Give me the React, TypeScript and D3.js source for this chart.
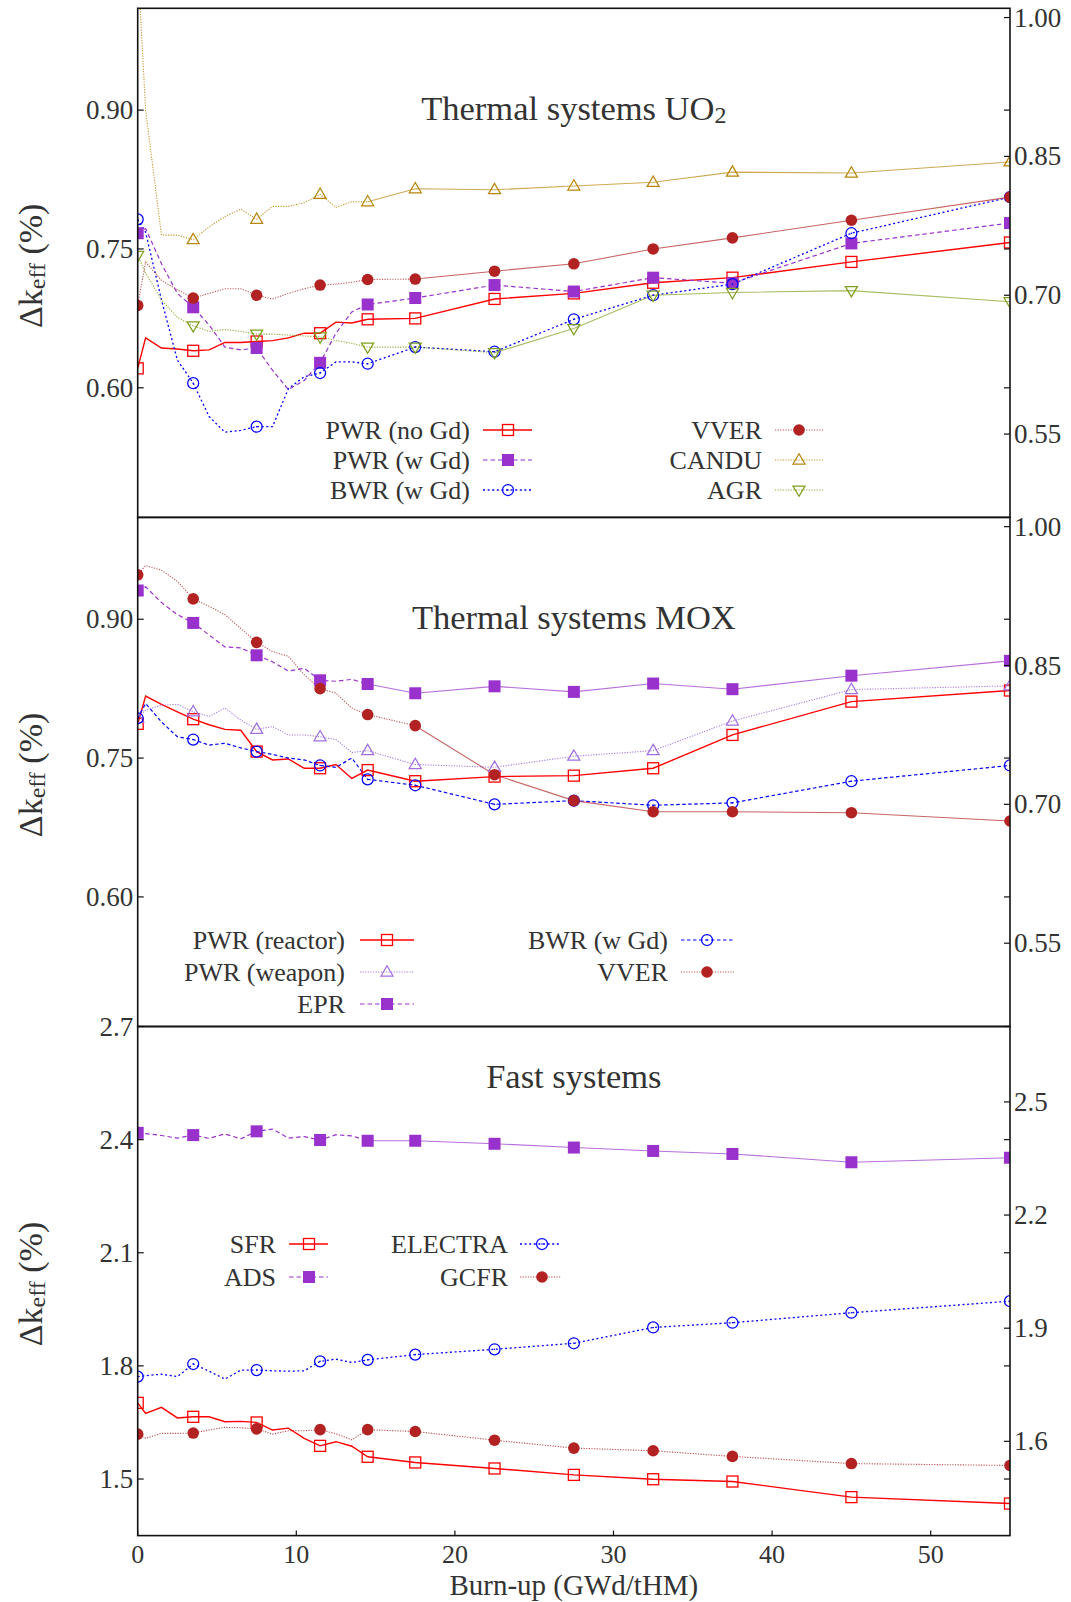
import React from 'react';
import * as d3 from 'd3';

// ---------- data ----------
const BURNUP = [0, 0.5, 1.5, 2.5, 3.5, 4.5, 5.5, 6.5, 7.5, 8.5, 9.5, 10.5, 11.5, 12.5, 13.5, 14.5, 17.5, 22.5, 27.5, 32.5, 37.5, 45, 55];
const MARKER_BURNUP = [0, 3.5, 7.5, 11.5, 14.5, 17.5, 22.5, 27.5, 32.5, 37.5, 45, 55];
const X_TICKS = [0, 10, 20, 30, 40, 50];

// Thermal systems UO2
const UO2_PWR_NOGD = [0.621, 0.654, 0.643, 0.642, 0.640, 0.641, 0.649, 0.649, 0.650, 0.651, 0.654, 0.659, 0.659, 0.671, 0.670, 0.674, 0.675, 0.696, 0.702, 0.7135, 0.719, 0.736, 0.757];
const UO2_PWR_WGD = [0.767, 0.772, 0.734, 0.702, 0.687, 0.668, 0.644, 0.641, 0.643, 0.619, 0.598, 0.608, 0.627, 0.659, 0.682, 0.690, 0.697, 0.711, 0.704, 0.719, 0.713, 0.756, 0.778];
const UO2_BWR_WGD = [0.782, 0.768, 0.695, 0.630, 0.605, 0.569, 0.552, 0.554, 0.558, 0.558, 0.599, 0.612, 0.616, 0.628, 0.628, 0.626, 0.644, 0.639, 0.674, 0.700, 0.712, 0.767, 0.806];
const UO2_VVER = [0.689, 0.736, 0.716, 0.706, 0.697, 0.702, 0.707, 0.707, 0.700, 0.696, 0.702, 0.707, 0.711, 0.712, 0.714, 0.717, 0.7175, 0.726, 0.734, 0.750, 0.762, 0.781, 0.806];
const UO2_CANDU = [1.06, 0.900, 0.765, 0.765, 0.760, 0.774, 0.785, 0.793, 0.782, 0.796, 0.796, 0.800, 0.809, 0.795, 0.801, 0.801, 0.815, 0.814, 0.818, 0.822, 0.833, 0.832, 0.844];
const UO2_AGR = [0.743, 0.724, 0.695, 0.676, 0.667, 0.661, 0.663, 0.661, 0.658, 0.658, 0.657, 0.656, 0.655, 0.651, 0.648, 0.644, 0.644, 0.638, 0.664, 0.700, 0.703, 0.705, 0.693];

// Thermal systems MOX
const MOX_PWR_REACTOR = [0.787, 0.817, 0.808, 0.800, 0.792, 0.786, 0.781, 0.780, 0.757, 0.748, 0.749, 0.739, 0.739, 0.743, 0.728, 0.737, 0.725, 0.730, 0.731, 0.739, 0.775, 0.811, 0.823];
const MOX_PWR_WEAPON = [0.793, 0.802, 0.807, 0.808, 0.800, 0.795, 0.804, 0.791, 0.781, 0.784, 0.775, 0.775, 0.773, 0.770, 0.756, 0.758, 0.743, 0.740, 0.752, 0.758, 0.790, 0.824, 0.828];
const MOX_EPR = [0.931, 0.935, 0.918, 0.905, 0.896, 0.883, 0.870, 0.869, 0.861, 0.854, 0.844, 0.847, 0.834, 0.833, 0.835, 0.830, 0.820, 0.8275, 0.8215, 0.8305, 0.8244, 0.839, 0.855];
const MOX_BWR_WGD = [0.793, 0.809, 0.789, 0.773, 0.770, 0.764, 0.766, 0.761, 0.757, 0.754, 0.750, 0.748, 0.742, 0.740, 0.750, 0.727, 0.7206, 0.700, 0.704, 0.699, 0.7016, 0.725, 0.742];
const MOX_VVER = [0.948, 0.958, 0.953, 0.941, 0.922, 0.914, 0.905, 0.890, 0.875, 0.865, 0.860, 0.840, 0.825, 0.820, 0.804, 0.797, 0.785, 0.732, 0.704, 0.692, 0.692, 0.691, 0.682];

// Fast systems
const FAST_SFR = [1.702, 1.674, 1.690, 1.662, 1.665, 1.665, 1.652, 1.653, 1.650, 1.630, 1.635, 1.608, 1.588, 1.599, 1.587, 1.559, 1.544, 1.528, 1.511, 1.4995, 1.4934, 1.452, 1.435];
const FAST_ADS = [2.418, 2.416, 2.411, 2.404, 2.412, 2.4035, 2.415, 2.402, 2.422, 2.428, 2.404, 2.408, 2.399, 2.413, 2.410, 2.397, 2.397, 2.389, 2.379, 2.370, 2.362, 2.340, 2.352];
const FAST_ELECTRA = [1.7715, 1.774, 1.778, 1.7715, 1.805, 1.786, 1.765, 1.789, 1.789, 1.787, 1.786, 1.787, 1.812, 1.818, 1.809, 1.816, 1.830, 1.844, 1.860, 1.902, 1.9145, 1.941, 1.9716];
const FAST_GCFR = [1.619, 1.608, 1.621, 1.621, 1.622, 1.630, 1.637, 1.636, 1.633, 1.619, 1.628, 1.628, 1.631, 1.620, 1.604, 1.631, 1.626, 1.603, 1.582, 1.575, 1.560, 1.541, 1.536];

const THERMAL_LEFT_TICKS = [0.6, 0.75, 0.9];
const THERMAL_RIGHT_TICKS = [0.55, 0.7, 0.85, 1.0];
const FAST_LEFT_TICKS = [1.5, 1.8, 2.1, 2.4, 2.7];
const FAST_RIGHT_TICKS = [1.6, 1.9, 2.2, 2.5];

// ---------- styles ----------
const RED = '#ff0000';
const PURPLE = '#9932cc';
const BLUE = '#0000ff';
const FIREBRICK = '#b22222';
const GOLD = '#b8860b';
const OLIVE = '#7f9f1f';
const LAVENDER = '#a070e0';
const TEXT = '#333333';
const FONT = '"Liberation Serif", "DejaVu Serif", serif';

type MarkerType = 'openSquare' | 'filledSquare' | 'openCircle' | 'filledCircle' | 'triUp' | 'triDown';
interface Series {
  label: string;
  values: number[];
  color: string;
  dash: string;
  width: number;
  opacity: number;
  marker: MarkerType;
  tailFrom?: number;
}

const solidRed = (label: string, values: number[]): Series => ({ label, values, color: RED, dash: '', width: 1.4, opacity: 1, marker: 'openSquare' });

const W = 1071, H = 1602;
const LEFT = 137.7, RIGHT = 1010;
const PANEL_H = 509.1;

interface LegendItem { s: Series; col: number; row: number; }
interface Panel {
  top: number;
  domain: [number, number];
  leftTicks: number[];
  rightTicks: number[];
  fmt: (n: number) => string;
  title: string;
  titleSub?: string;
  titleY: number;
  series: Series[];
  legendRows: number[];
  legendCols: { textEnd: number; x1: number; x2: number; mx: number }[];
  legend: LegendItem[];
}

const uo2Series: Series[] = [
  solidRed('PWR (no Gd)', UO2_PWR_NOGD),
  { label: 'PWR (w Gd)', values: UO2_PWR_WGD, color: PURPLE, dash: '4.5,3', width: 1.2, opacity: 1, marker: 'filledSquare' },
  { label: 'BWR (w Gd)', values: UO2_BWR_WGD, color: BLUE, dash: '2,2.6', width: 1.3, opacity: 1, marker: 'openCircle' },
  { label: 'VVER', values: UO2_VVER, color: FIREBRICK, dash: '1.2,1.4', width: 1.1, opacity: 0.75, marker: 'filledCircle', tailFrom: 17.5 },
  { label: 'CANDU', values: UO2_CANDU, color: GOLD, dash: '1.2,1.4', width: 1.1, opacity: 0.85, marker: 'triUp', tailFrom: 14.5 },
  { label: 'AGR', values: UO2_AGR, color: OLIVE, dash: '1.2,1.4', width: 1.1, opacity: 0.85, marker: 'triDown', tailFrom: 22.5 },
];
const moxSeries: Series[] = [
  solidRed('PWR (reactor)', MOX_PWR_REACTOR),
  { label: 'PWR (weapon)', values: MOX_PWR_WEAPON, color: LAVENDER, dash: '1.2,1.4', width: 1.1, opacity: 0.9, marker: 'triUp' },
  { label: 'EPR', values: MOX_EPR, color: PURPLE, dash: '4.5,3', width: 1.2, opacity: 1, marker: 'filledSquare', tailFrom: 14.5 },
  { label: 'BWR (w Gd)', values: MOX_BWR_WGD, color: BLUE, dash: '3.5,2.5', width: 1.2, opacity: 1, marker: 'openCircle' },
  { label: 'VVER', values: MOX_VVER, color: FIREBRICK, dash: '1.2,1.4', width: 1.1, opacity: 0.75, marker: 'filledCircle', tailFrom: 17.5 },
];
const fastSeries: Series[] = [
  solidRed('SFR', FAST_SFR),
  { label: 'ADS', values: FAST_ADS, color: PURPLE, dash: '4.5,3', width: 1.2, opacity: 1, marker: 'filledSquare', tailFrom: 14.5 },
  { label: 'ELECTRA', values: FAST_ELECTRA, color: BLUE, dash: '2,2.6', width: 1.3, opacity: 1, marker: 'openCircle' },
  { label: 'GCFR', values: FAST_GCFR, color: FIREBRICK, dash: '1.2,1.4', width: 1.1, opacity: 0.8, marker: 'filledCircle' },
];

const f2 = d3.format('.2f');
const f1 = d3.format('.1f');

const PANELS: Panel[] = [
  {
    top: 8.3, domain: [0.46, 1.01], leftTicks: THERMAL_LEFT_TICKS, rightTicks: THERMAL_RIGHT_TICKS, fmt: f2,
    title: 'Thermal systems UO', titleSub: '2', titleY: 108, series: uo2Series,
    legendRows: [430, 460, 490],
    legendCols: [{ textEnd: 470, x1: 483, x2: 532, mx: 508 }, { textEnd: 762, x1: 775, x2: 824, mx: 799 }],
    legend: [
      { s: uo2Series[0], col: 0, row: 0 }, { s: uo2Series[1], col: 0, row: 1 }, { s: uo2Series[2], col: 0, row: 2 },
      { s: uo2Series[3], col: 1, row: 0 }, { s: uo2Series[4], col: 1, row: 1 }, { s: uo2Series[5], col: 1, row: 2 },
    ],
  },
  {
    top: 517.4, domain: [0.46, 1.01], leftTicks: THERMAL_LEFT_TICKS, rightTicks: THERMAL_RIGHT_TICKS, fmt: f2,
    title: 'Thermal systems MOX', titleY: 617, series: moxSeries,
    legendRows: [940, 972, 1004],
    legendCols: [{ textEnd: 345, x1: 360, x2: 414, mx: 387 }, { textEnd: 668, x1: 681, x2: 734, mx: 707 }],
    legend: [
      { s: moxSeries[0], col: 0, row: 0 }, { s: moxSeries[1], col: 0, row: 1 }, { s: moxSeries[2], col: 0, row: 2 },
      { s: moxSeries[3], col: 1, row: 0 }, { s: moxSeries[4], col: 1, row: 1 },
    ],
  },
  {
    top: 1026.5, domain: [1.35, 2.7], leftTicks: FAST_LEFT_TICKS, rightTicks: FAST_RIGHT_TICKS, fmt: f1,
    title: 'Fast systems', titleY: 1076, series: fastSeries,
    legendRows: [1244, 1277],
    legendCols: [{ textEnd: 276, x1: 289, x2: 328, mx: 309 }, { textEnd: 508, x1: 520, x2: 561, mx: 542 }],
    legend: [
      { s: fastSeries[0], col: 0, row: 0 }, { s: fastSeries[1], col: 0, row: 1 },
      { s: fastSeries[2], col: 1, row: 0 }, { s: fastSeries[3], col: 1, row: 1 },
    ],
  },
];

const x = d3.scaleLinear().domain([0, 55]).range([LEFT, RIGHT]);

function Marker({ type, cx, cy, color }: { type: MarkerType; cx: number; cy: number; color: string }) {
  switch (type) {
    case 'openSquare':
      return <rect x={cx - 5.5} y={cy - 5.5} width={11} height={11} fill="none" stroke={color} strokeWidth={1.3} />;
    case 'filledSquare':
      return <rect x={cx - 6} y={cy - 6} width={12} height={12} fill={color} />;
    case 'openCircle':
      return (
        <g>
          <circle cx={cx} cy={cy} r={5.5} fill="none" stroke={color} strokeWidth={1.25} />
          <circle cx={cx} cy={cy} r={0.8} fill={color} />
        </g>
      );
    case 'filledCircle':
      return <circle cx={cx} cy={cy} r={5.8} fill={color} />;
    case 'triUp':
      return <polygon points={`${cx},${cy - 6.3} ${cx - 6},${cy + 4} ${cx + 6},${cy + 4}`} fill="none" stroke={color} strokeWidth={1.25} />;
    case 'triDown':
      return <polygon points={`${cx},${cy + 6.3} ${cx - 6},${cy - 4} ${cx + 6},${cy - 4}`} fill="none" stroke={color} strokeWidth={1.25} />;
  }
  return null;
}

function PanelView({ p, idx }: { p: Panel; idx: number }) {
  const y = d3.scaleLinear().domain(p.domain).range([p.top + PANEL_H, p.top]);
  const line = d3.line<[number, number]>().x(d => x(d[0])).y(d => y(d[1]));
  const clipId = `clip${idx}`;
  const cy = p.top + PANEL_H / 2 + 3;
  const allRight = [...p.rightTicks, ...p.leftTicks];
  return (
    <g>
      <defs>
        <clipPath id={clipId}>
          <rect x={LEFT} y={p.top} width={RIGHT - LEFT} height={PANEL_H} />
        </clipPath>
      </defs>
      <g clipPath={`url(#${clipId})`}>
        {p.series.map((s, i) => {
          const pts: [number, number][] = BURNUP.map((b, j) => [b, s.values[j]]);
          const tf = s.tailFrom ?? Infinity;
          const head = pts.filter(d => d[0] <= tf);
          const tail = pts.filter(d => d[0] >= tf);
          return (
            <g key={i}>
              <path d={line(head) || ''} fill="none" stroke={s.color} strokeWidth={s.width} strokeDasharray={s.dash || undefined} opacity={s.opacity} />
              {tail.length > 1 && (
                <path d={line(tail) || ''} fill="none" stroke={s.color} strokeWidth={1.1} opacity={0.7} />
              )}
            </g>
          );
        })}
        {p.series.map((s, i) => (
          <g key={'m' + i}>
            {BURNUP.map((b, j) => MARKER_BURNUP.includes(b) ? (
              <Marker key={j} type={s.marker} cx={x(b)} cy={y(s.values[j])} color={s.color} />
            ) : null)}
          </g>
        ))}
      </g>
      {/* frame */}
      <rect x={LEFT} y={p.top} width={RIGHT - LEFT} height={PANEL_H} fill="none" stroke="#111" strokeWidth={1.6} />
      {/* left ticks */}
      {p.leftTicks.map((t, i) => (
        <g key={'l' + i}>
          <line x1={LEFT} x2={LEFT + 6} y1={y(t)} y2={y(t)} stroke="#111" strokeWidth={1.2} />
          <text x={LEFT - 4.5} y={y(t)} textAnchor="end" dominantBaseline="central" fontSize={27} fill={TEXT} fontFamily={FONT}>{p.fmt(t)}</text>
        </g>
      ))}
      {/* right ticks */}
      {allRight.map((t, i) => (
        <line key={'rt' + i} x1={RIGHT - 6} x2={RIGHT} y1={y(t)} y2={y(t)} stroke="#111" strokeWidth={1.2} />
      ))}
      {p.rightTicks.map((t, i) => (
        <text key={'r' + i} x={RIGHT + 4} y={y(t)} textAnchor="start" dominantBaseline="central" fontSize={27} fill={TEXT} fontFamily={FONT}>{p.fmt(t)}</text>
      ))}
      {/* title */}
      <text x={(LEFT + RIGHT) / 2} y={p.titleY} textAnchor="middle" dominantBaseline="central" fontSize={34.5} fill={TEXT} fontFamily={FONT}>
        {p.title}
        {p.titleSub && <tspan dy={7} fontSize={24}>{p.titleSub}</tspan>}
      </text>
      {/* y label */}
      <text transform={`translate(30, ${cy}) rotate(-90)`} textAnchor="middle" dominantBaseline="central" fontSize={34} fill={TEXT} fontFamily={FONT}>
        Δk<tspan dy={7} fontSize={24}>eff</tspan><tspan dy={-7}> (%)</tspan>
      </text>
      {/* legend */}
      {p.legend.map((it, i) => {
        const c = p.legendCols[it.col];
        const ry = p.legendRows[it.row];
        return (
          <g key={'lg' + i}>
            <text x={c.textEnd} y={ry} textAnchor="end" dominantBaseline="central" fontSize={26} fill={TEXT} fontFamily={FONT}>{it.s.label}</text>
            <line x1={c.x1} x2={c.x2} y1={ry} y2={ry} stroke={it.s.color} strokeWidth={it.s.width} strokeDasharray={it.s.dash || undefined} opacity={it.s.opacity} />
            <Marker type={it.s.marker} cx={c.mx} cy={ry} color={it.s.color} />
          </g>
        );
      })}
    </g>
  );
}

export default function App() {
  const bottom = PANELS[2].top + PANEL_H;
  return (
    <svg width={W} height={H} viewBox={`0 0 ${W} ${H}`} style={{ position: 'absolute', left: 0, top: 0, background: '#fff' }} xmlns="http://www.w3.org/2000/svg">
      <rect x={0} y={0} width={W} height={H} fill="#fff" />
      {PANELS.map((p, i) => <PanelView key={i} p={p} idx={i} />)}
      {X_TICKS.map((t, i) => (
        <g key={'x' + i}>
          <line x1={x(t)} x2={x(t)} y1={bottom} y2={bottom - 5} stroke="#111" strokeWidth={1.2} />
          <text x={x(t)} y={1562.5} textAnchor="middle" fontSize={26} fill={TEXT} fontFamily={FONT}>{t}</text>
        </g>
      ))}
      <text x={(LEFT + RIGHT) / 2} y={1594.5} textAnchor="middle" fontSize={29} fill={TEXT} fontFamily={FONT}>Burn-up (GWd/tHM)</text>
    </svg>
  );
}
